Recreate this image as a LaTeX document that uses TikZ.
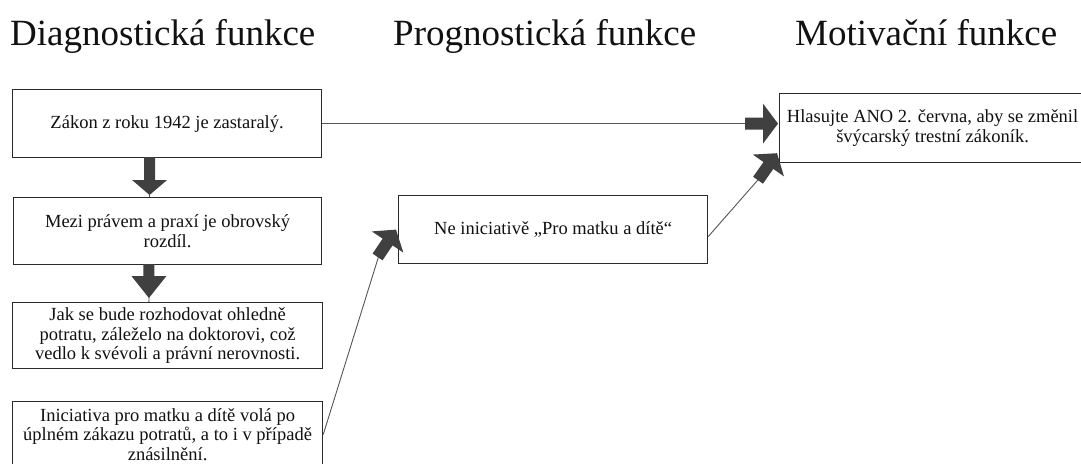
\documentclass[tikz,border=0pt]{standalone}
\usepackage{fontspec}
\setmainfont{Liberation Serif}
\usetikzlibrary{calc}
\definecolor{boxc}{HTML}{2A2A2A}
\definecolor{linec}{HTML}{555555}
\definecolor{arrc}{HTML}{404040}
\definecolor{txt}{HTML}{111111}
% #1 tip, #2 angle, #3 head half width, #4 head length, #5 shaft half width, #6 total length
\newcommand\blkarrow[6]{\fill[blk, shift={(#1)}, rotate=#2] (0,0) -- (-#4,#3) -- (-#4,#5) -- (-#6,#5) -- (-#6,-#5) -- (-#4,-#5) -- (-#4,-#3) -- cycle;}
\begin{document}
\begin{tikzpicture}[x=1pt,y=1pt,
  box/.style={draw=boxc, line width=1.2pt, fill=white, inner sep=0pt, align=center,
              font=\fontsize{18.5}{19.5}\selectfont, text=txt, anchor=north west},
  title/.style={anchor=base west, inner sep=0pt, font=\fontsize{37}{40}\selectfont, text=txt},
  conn/.style={draw=linec, line width=0.9pt},
  blk/.style={fill=arrc}]
\useasboundingbox (0,0) rectangle (1081,-463);
\fill[white] (0,0) rectangle (1081,-463);
\clip (0,0) rectangle (1081,-463);

% titles
\node[title] (t1) at (10,-45) {Diagnostická funkce};
\node[title] (t2) at (393,-45) {Prognostická funkce};
\node[title] (t3) at (795,-45) {Motivační funkce};

% boxes
\node[box, minimum width=309pt, minimum height=68pt] (b1) at (12,-89) {Zákon z roku 1942 je zastaralý.};
\node[box, minimum width=308pt, minimum height=67pt] (b2) at (13,-197) {Mezi právem a praxí je obrovský\\rozdíl.};
\node[box, minimum width=310pt, minimum height=66pt] (b3) at (12,-302) {Jak se bude rozhodovat ohledně\\potratu, záleželo na doktorovi, což\\vedlo k svévoli a právní nerovnosti.};
\node[box, minimum width=310pt, minimum height=66pt] (b4) at (12,-401) {Iniciativa pro matku a dítě volá po\\úplném zákazu potratů, a to i v případě\\znásilnění.};
\node[box, minimum width=309pt, minimum height=68pt] (b5) at (398,-195) {Ne iniciativě „Pro matku a dítě“};
\node[box, minimum width=306pt, minimum height=69pt] (b6) at (779,-93) {Hlasujte ANO 2. června, aby se změnil\\švýcarský trestní zákoník.};

% vertical block arrows
\coordinate (a1s) at ($(b1.south west)!0.44!(b1.south east)$);
\coordinate (a1e) at ($(b2.north west)!0.4416!(b2.north east)$);
\coordinate (a1t) at ($(a1e)+(0,2)$);
\draw[conn] (a1s) -- (a1e);
\blkarrow{a1t}{-90}{17.5}{15}{5.5}{38}

\coordinate (a2s) at ($(b2.south west)!0.4416!(b2.south east)$);
\coordinate (a2e) at ($(b3.north west)!0.44!(b3.north east)$);
\coordinate (a2t) at ($(a2e)+(0,4)$);
\draw[conn] (a2s) -- (a2e);
\blkarrow{a2t}{-90}{17.5}{22}{5.5}{34}

% horizontal connector b1 -> b6
\coordinate (h6) at ($(b6.west)+(-1,5.5)$);
\coordinate (h6t) at (b1.east -| h6);
\draw[conn] (b1.east) -- (h6t);
\blkarrow{h6t}{0}{20}{15}{6}{33}

% diagonal connector b4 -> b5
\coordinate (d5t) at ($(b5.west)+(-2,0)$);
\coordinate (d5s) at ($(d5t)+(236:30)$);
\draw[conn] (b4.east) -- (d5s);
\blkarrow{d5t}{56}{19}{15}{6}{33}

% diagonal connector b5 -> b6
\coordinate (d6t) at ($(b6.south west)+(-2,10)$);
\coordinate (d6s) at ($(d6t)+(235:30)$);
\draw[conn] ([yshift=-7pt]b5.east) -- (d6s);
\blkarrow{d6t}{55}{19}{15}{6}{33}
\end{tikzpicture}
\end{document}
